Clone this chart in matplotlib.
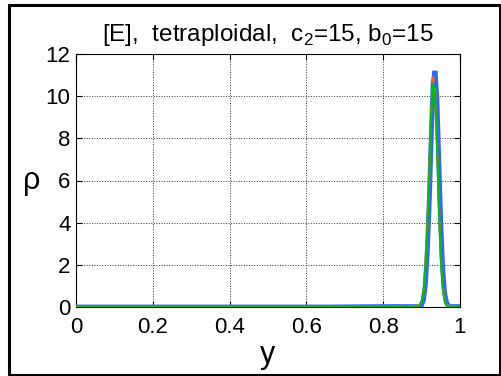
import matplotlib
matplotlib.use("Agg")
import matplotlib.pyplot as plt
from matplotlib.patches import Rectangle

plt.rcParams['font.family'] = ['Liberation Sans', 'DejaVu Sans']
plt.rcParams['mathtext.fontset'] = 'custom'
plt.rcParams['mathtext.rm'] = 'Liberation Sans'

x = [0.0, 0.65, 0.80, 0.85, 0.88, 0.89, 0.895, 0.90, 0.905, 0.91, 0.915, 0.92, 0.925,
     0.93, 0.935, 0.94, 0.945, 0.95, 0.955, 0.96, 0.965, 0.97, 0.975, 1.0]
rho_blue = [0.0, 0.0, 0.02, 0.02, 0.02, 0.02, 0.03, 0.1, 0.35, 1.1, 2.7, 5.0, 8.0,
            10.6, 11.2, 9.8, 6.8, 3.9, 1.8, 0.65, 0.2, 0.05, 0.02, 0.02]
rho_orange = [0.0, 0.0, 0.01, 0.05, 0.05, 0.06, 0.12, 0.3, 0.8, 1.9, 3.9, 6.4, 9.4,
              10.9, 10.4, 8.0, 4.9, 2.5, 1.0, 0.35, 0.12, 0.06, 0.05, 0.04]
rho_green = [0.04, 0.04, 0.03, 0.03, 0.03, 0.03, 0.08, 0.25, 0.7, 1.8, 3.8, 6.3, 9.2,
             10.6, 10.1, 7.8, 4.7, 2.3, 0.9, 0.3, 0.08, 0.03, 0.03, 0.03]

xticks = [0, 0.2, 0.4, 0.6, 0.8, 1]
xticklabels = ['0', '0.2', '0.4', '0.6', '0.8', '1']
yticks = [0, 2, 4, 6, 8, 10, 12]

fig = plt.figure(figsize=(5.02, 3.76), dpi=100)
ax = fig.add_axes([76/502, 1-307/376, 384/502, 253/376])

ax.plot(x, rho_blue, color='#3366ff', lw=3.5, solid_joinstyle='miter', zorder=3)
ax.plot(x, rho_orange, color='#ff6a13', lw=1.5, ls=(0, (5, 3)), zorder=4)
ax.plot(x, rho_green, color='#00c000', lw=1.5, zorder=5)

ax.set_xlim(0, 1)
ax.set_ylim(0, 12)
ax.set_xticks(xticks)
ax.set_xticklabels(xticklabels)
ax.set_yticks(yticks)
ax.tick_params(direction='in', labelsize=16, length=4, top=True, right=True)
ax.tick_params(axis='x', pad=7)
ax.tick_params(axis='y', pad=4)
ax.grid(True, ls=':', color='#333333', lw=0.7)
for s in ax.spines.values():
    s.set_linewidth(0.8)

ax.set_xlabel('y', fontsize=22, labelpad=2)
ax.set_ylabel('ρ', fontsize=22, rotation=0, labelpad=10, va='center')
ax.set_title(r'[E],  tetraploidal,  c$_2$=15, b$_0$=15', fontsize=17.5, pad=9)

fig.add_artist(Rectangle((9/502, 1/376), (500-9)/502, (371-1)/376, transform=fig.transFigure,
                         fill=False, edgecolor='black', lw=2.2))

fig.savefig('out.png', dpi=100)
